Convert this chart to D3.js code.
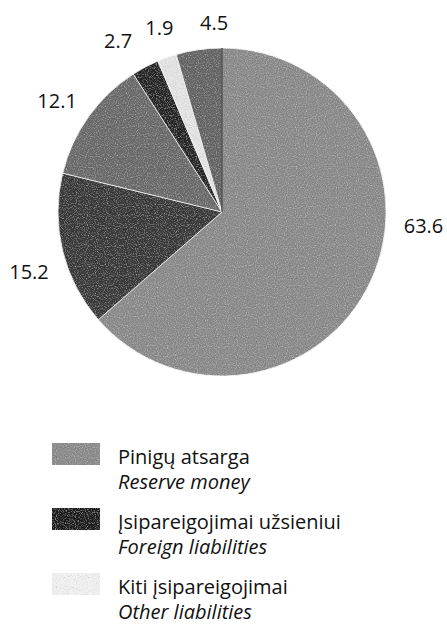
<!DOCTYPE html>
<html>
<head>
<meta charset="utf-8">
<style>
  body { margin: 0; background: #fff; }
  text { font-family: "Open Sans", sans-serif; fill: #111; }
</style>
</head>
<body>
<svg id="chart" width="447" height="626"></svg>
<script src="https://cdn.jsdelivr.net/npm/d3@7"></script>
<script>
// slice values, clockwise from 12 o'clock
const shares = [63.6, 15.2, 12.1, 2.7, 1.9, 4.5]
const shareLabels = ["63.6", "15.2", "12.1", "2.7", "1.9", "4.5"]
const legendLt = ["Pinigų atsarga", "Įsipareigojimai užsieniui", "Kiti įsipareigojimai"]
const legendEn = ["Reserve money", "Foreign liabilities", "Other liabilities"]

const svg = d3.select("#chart")
const cx = 222, cy = 212, r = 164

// grain filter to get the printed halftone look
const defs = svg.append("defs")
const f = defs.append("filter").attr("id", "grain")
  .attr("x", 0).attr("y", 0).attr("width", 1).attr("height", 1)
f.append("feTurbulence").attr("type", "fractalNoise")
  .attr("baseFrequency", 0.9).attr("numOctaves", 1).attr("seed", 4).attr("result", "noise")
f.append("feColorMatrix").attr("in", "noise").attr("type", "saturate").attr("values", 0).attr("result", "gray")
f.append("feBlend").attr("in", "SourceGraphic").attr("in2", "gray").attr("mode", "overlay").attr("result", "mix")
f.append("feComposite").attr("in", "mix").attr("in2", "SourceGraphic").attr("operator", "in")

const dark = defs.append("radialGradient").attr("id", "darkfill")
  .attr("cx", cx).attr("cy", cy).attr("r", r).attr("gradientUnits", "userSpaceOnUse")
dark.append("stop").attr("offset", "0.3").attr("stop-color", "#050505")
dark.append("stop").attr("offset", "0.75").attr("stop-color", "#151515")
dark.append("stop").attr("offset", "1").attr("stop-color", "#3a3a3a")

const fills = ["#8c8c8c", "url(#darkfill)", "#6c6c6c", "#262626", "#e4e4e4", "#666666"]

const pie = d3.pie().sort(null).value(d => d)
const arcs = pie(shares)
const arc = d3.arc().innerRadius(0).outerRadius(r)

const g = svg.append("g").attr("transform", `translate(${cx},${cy})`)
g.selectAll("path.slice")
  .data(arcs)
  .enter()
  .append("path")
  .attr("class", "slice")
  .attr("d", arc)
  .attr("fill", (d, i) => fills[i])
  .attr("filter", "url(#grain)")
  .attr("stroke", "#fff")
  .attr("stroke-width", 0.8)

// dark seam at 12 o'clock, where the pie starts
const seamEnd = d3.pointRadial(arcs[0].startAngle, r)
g.append("line")
  .attr("x1", 0).attr("y1", 0)
  .attr("x2", seamEnd[0]).attr("y2", seamEnd[1])
  .attr("stroke", "#111").attr("stroke-width", 1)

// labels sit near the middle of each slice, nudged by hand
const nudge = [-20.5, -3.5, -1.4, -3.4, 0.9, 5.7]
const labelR = [202, 202, 199, 200, 195, 189]
const labelPos = (d, i) => d3.pointRadial((d.startAngle + d.endAngle) / 2 + nudge[i] * Math.PI / 180, labelR[i])
g.selectAll("text.val")
  .data(arcs)
  .enter()
  .append("text")
  .attr("class", "val")
  .attr("text-anchor", "middle")
  .attr("dy", "0.36em")
  .style("font-size", "20px")
  .attr("x", (d, i) => labelPos(d, i)[0])
  .attr("y", (d, i) => labelPos(d, i)[1])
  .text((d, i) => shareLabels[i])

// legend
const swatchFill = ["#8c8c8c", "#1e1e1e", "#f0f0f0"]
const legend = svg.append("g").attr("transform", "translate(52,443)")
const item = legend.selectAll("g")
  .data(legendLt)
  .enter()
  .append("g")
  .attr("transform", (d, i) => `translate(0,${i * 65})`)

item.append("rect")
  .attr("width", 48).attr("height", 22)
  .attr("fill", (d, i) => swatchFill[i])
  .attr("filter", "url(#grain)")

item.append("text")
  .attr("x", 66).attr("y", 21)
  .style("font-size", "20px")
  .text(d => d)
item.append("text")
  .attr("x", 66).attr("y", 46)
  .style("font-size", "20px")
  .style("font-style", "italic")
  .text((d, i) => legendEn[i])
</script>
</body>
</html>
